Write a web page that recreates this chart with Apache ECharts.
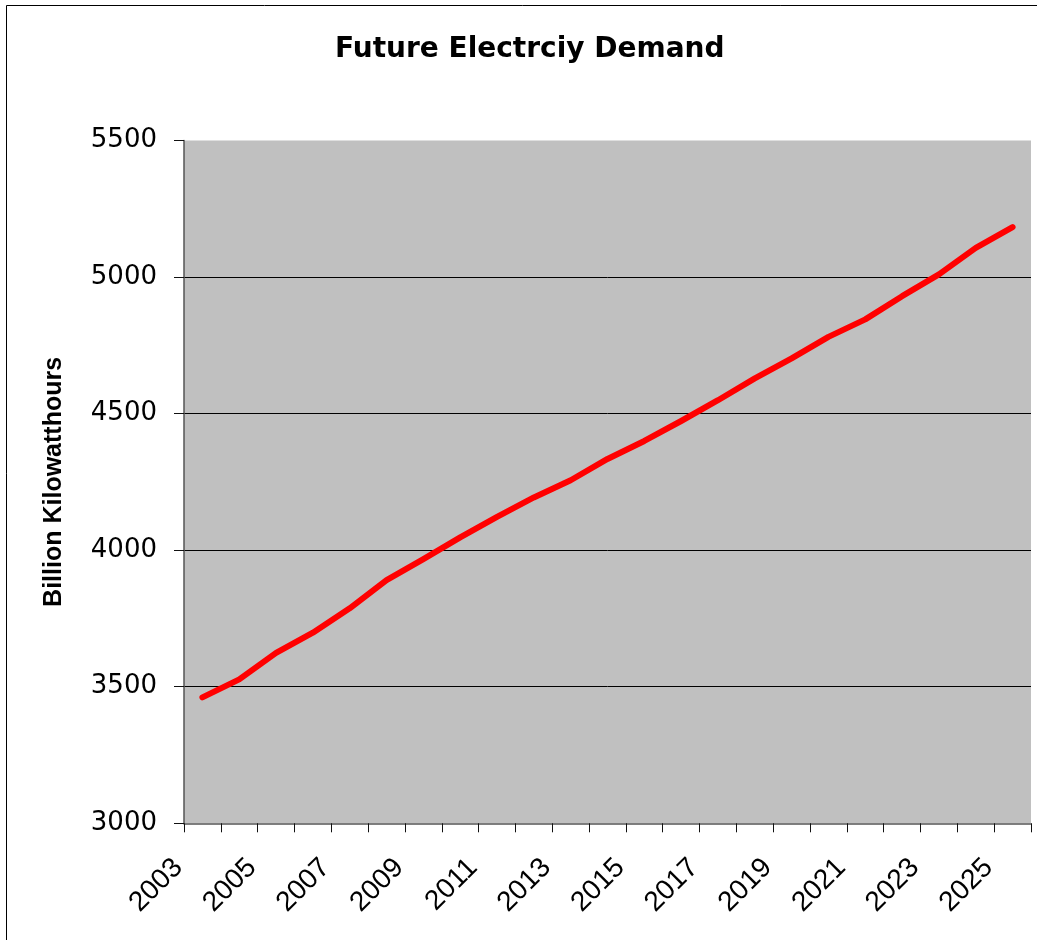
<!DOCTYPE html>
<html>
<head>
<meta charset="utf-8">
<script src="https://cdn.jsdelivr.net/npm/echarts@6/dist/echarts.min.js"></script>
<style>
  html, body { margin: 0; padding: 0; background: #fff; }
  #main { width: 1037px; height: 940px; }
</style>
</head>
<body>
<div id="main"></div>
<script>
// years on the x axis
var years = ['2003', '2004', '2005', '2006', '2007', '2008', '2009', '2010', '2011', '2012', '2013', '2014',
  '2015', '2016', '2017', '2018', '2019', '2020', '2021', '2022', '2023', '2024', '2025'];
// billion kWh
var demand = [3461, 3527, 3624, 3698, 3787, 3890, 3967, 4047, 4122, 4193, 4256, 4334,
  4400, 4473, 4549, 4629, 4702, 4781, 4845, 4930, 5010, 5107, 5183];
var yMin = 3000, yMax = 5500, yStep = 500;

var chart = echarts.init(document.getElementById('main'));

chart.setOption({
  backgroundColor: '#fff',
  animation: false,
  title: {
    text: 'Future Electrciy Demand',
    left: 330,
    top: 31,
    textStyle: { fontFamily: 'DejaVu Sans', fontSize: 28, fontWeight: 'bold', color: '#000' }
  },
  graphic: [{
    type: 'rect',
    shape: { x: 6.5, y: 5.5, width: 1100, height: 1000 },
    style: { fill: null, stroke: '#000', lineWidth: 1 },
    silent: true
  }],
  grid: {
    left: 184,
    right: 6,
    top: 140.5,
    bottom: 116.7,
    show: true,
    backgroundColor: '#c0c0c0',
    borderWidth: 0
  },
  xAxis: {
    type: 'category',
    data: years,
    boundaryGap: true,
    axisLine: { lineStyle: { color: '#555', width: 1.5 } },
    axisTick: { show: true, interval: 0, length: 9, lineStyle: { color: '#111' } },
    axisLabel: {
      interval: 1,
      rotate: 45,
      margin: 16,
      padding: [0, 34, 0, 0],
      fontFamily: 'Liberation Sans',
      fontSize: 28,
      color: '#000'
    },
    splitLine: { show: false }
  },
  yAxis: {
    type: 'value',
    min: yMin,
    max: yMax,
    interval: yStep,
    name: 'Billion Kilowatthours',
    nameLocation: 'middle',
    nameGap: 117,
    nameTextStyle: { fontFamily: 'Liberation Sans', fontSize: 25, fontWeight: 'bold', color: '#000' },
    axisLine: { show: true, lineStyle: { color: '#555', width: 1.5 } },
    axisTick: { show: true, length: 10, lineStyle: { color: '#111' } },
    axisLabel: {
      margin: 27,
      formatter: function (v) { return String(v); },
      fontFamily: 'DejaVu Sans',
      fontSize: 26,
      color: '#000'
    },
    splitLine: { show: true, showMinLine: false, showMaxLine: false, lineStyle: { color: '#000', width: 1 } }
  },
  series: [{
    type: 'line',
    data: demand,
    symbol: 'none',
    smooth: false,
    lineStyle: { color: '#ff0000', width: 6, cap: 'round', join: 'round' },
    itemStyle: { color: '#ff0000' }
  }]
});
</script>
</body>
</html>
